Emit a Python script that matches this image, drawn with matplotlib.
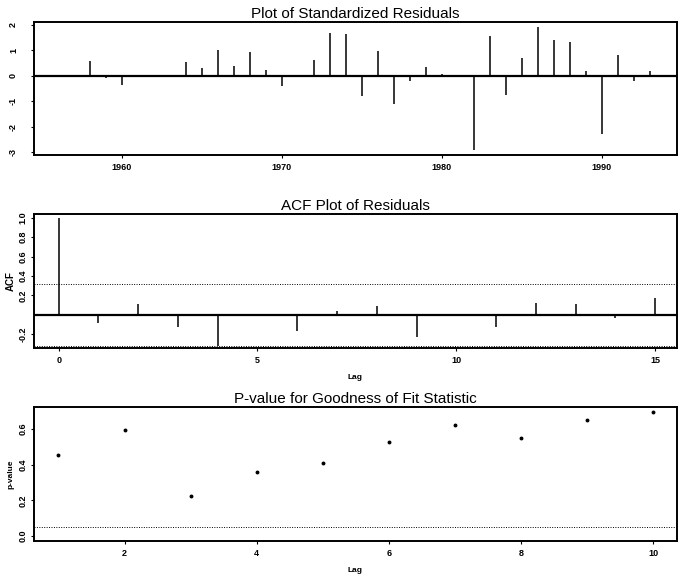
import matplotlib
matplotlib.use("Agg")
import matplotlib.pyplot as plt
import numpy as np

plt.rcParams['font.family'] = ['Liberation Sans', 'DejaVu Sans']
plt.rcParams['axes.unicode_minus'] = False

# standardized residuals, one per year
years = list(range(1956, 1994))
std_resid = [0.03, 0.02, 0.58, -0.08, -0.35, 0.02, 0.03, -0.05, 0.53, 0.29,
             0.99, 0.38, 0.92, 0.23, -0.42, 0.04, 0.60, 1.66, 1.64, -0.81,
             0.95, -1.10, -0.20, 0.36, 0.05, 0.02, -2.92, 1.56, -0.74, 0.69,
             1.92, 1.40, 1.30, 0.19, -2.27, 0.82, -0.22, 0.18]

# autocorrelation of residuals
acf_lags = list(range(0, 16))
acf_vals = [1.0, -0.09, 0.106, -0.13, -0.32, 0.01, -0.17, 0.04,
            0.085, -0.23, 0.01, -0.13, 0.12, 0.105, -0.03, 0.176]
acf_clim = 0.32

# Ljung-Box p-values
pv_lags = list(range(1, 11))
pv_vals = [0.452, 0.596, 0.224, 0.359, 0.409, 0.527, 0.619, 0.546, 0.650, 0.692]
pv_level = 0.05

resid_yticks = [-3, -2, -1, 0, 1, 2]
resid_xticks = [1960, 1970, 1980, 1990]
acf_yticks = [-0.2, 0.2, 0.4, 0.6, 0.8, 1.0]
acf_xticks = [0, 5, 10, 15]
pv_yticks = [0.0, 0.2, 0.4, 0.6]
pv_xticks = [2, 4, 6, 8, 10]

W, H = 681, 577
fig = plt.figure(figsize=(W / 100, H / 100), dpi=100)


def make_axes(top, bottom, left=34, right=677):
    return fig.add_axes([left / W, (H - bottom) / H, (right - left) / W, (bottom - top) / H])


def style(ax, title, ypad):
    ax.set_title(title, fontsize=11, pad=3)
    for s in ax.spines.values():
        s.set_linewidth(1.4)
    ax.tick_params(axis='both', direction='out', length=2.5, width=0.8, labelsize=6.5)
    ax.tick_params(axis='y', pad=ypad)
    for lab in ax.get_xticklabels() + ax.get_yticklabels():
        lab.set_fontweight('bold')
    for lab in ax.get_yticklabels():
        lab.set_rotation(90)
        lab.set_va('center')


# standardized residuals
ax1 = make_axes(22, 155)
ax1.vlines(years, 0, std_resid, color='black', linewidth=1.1)
ax1.axhline(0, color='black', linewidth=1.6)
ax1.set_xlim(1954.5, 1994.7)
ax1.set_ylim(-3.1, 2.1)
ax1.set_xticks(resid_xticks)
ax1.set_yticks(resid_yticks)
ax1.set_yticklabels([str(v) for v in resid_yticks])
style(ax1, "Plot of Standardized Residuals", 9)

# ACF
ax2 = make_axes(214, 348)
ax2.vlines(acf_lags, 0, acf_vals, color='black', linewidth=1.1)
ax2.axhline(0, color='black', linewidth=1.6)
ax2.axhline(acf_clim, color='black', linestyle=(0, (1, 1.5)), linewidth=0.7)
ax2.axhline(-acf_clim, color='black', linestyle=(0, (1, 1.5)), linewidth=0.7)
ax2.set_xlim(-0.62, 15.55)
ax2.set_ylim(-0.345, 1.04)
ax2.set_xticks(acf_xticks)
ax2.set_yticks(acf_yticks)
ax2.set_yticklabels([f"{v:.1f}" for v in acf_yticks])
ax2.set_xlabel("Lag", fontsize=6, fontweight='bold', labelpad=6)
ax2.set_ylabel("ACF", fontsize=7, fontweight='bold', labelpad=2)
style(ax2, "ACF Plot of Residuals", 2)

# p-values
ax3 = make_axes(407, 541)
ax3.plot(pv_lags, pv_vals, 'o', color='black', markersize=1.8)
ax3.axhline(pv_level, color='black', linestyle=(0, (1, 1.5)), linewidth=0.7)
ax3.set_xlim(0.63, 10.36)
ax3.set_ylim(-0.028, 0.722)
ax3.set_xticks(pv_xticks)
ax3.set_yticks(pv_yticks)
ax3.set_yticklabels([f"{v:.1f}" for v in pv_yticks])
ax3.set_xlabel("Lag", fontsize=6, fontweight='bold', labelpad=6)
ax3.set_ylabel("p-value", fontsize=6, fontweight='bold', labelpad=3)
style(ax3, "P-value for Goodness of Fit Statistic", 2)

fig.savefig("out.png", dpi=100)
